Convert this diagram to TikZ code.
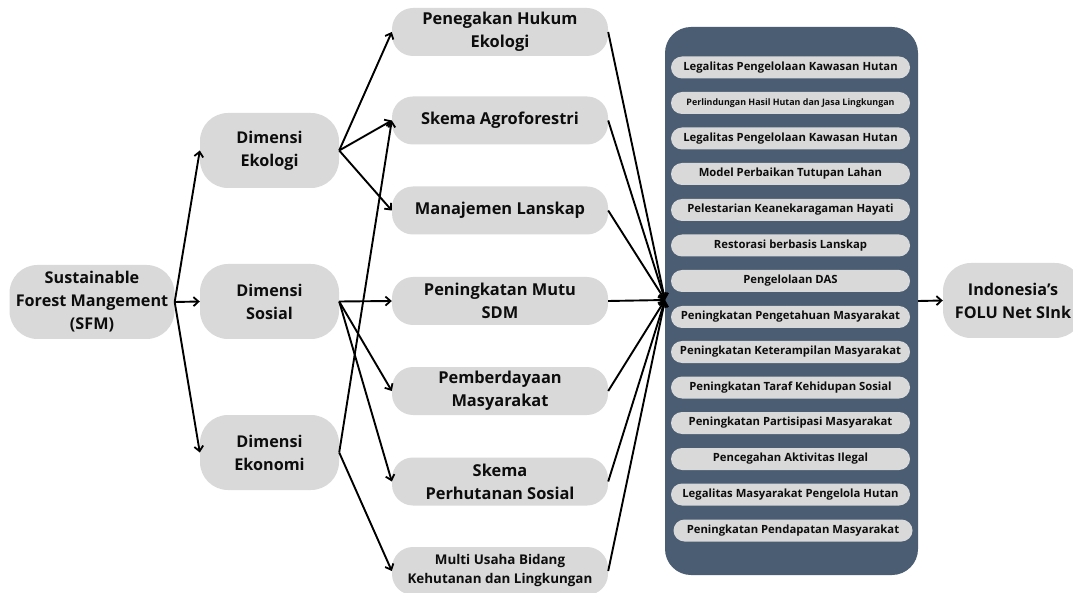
\documentclass[tikz,border=0pt]{standalone}
\usepackage{fontspec}
\setmainfont{Open Sans}
\usetikzlibrary{arrows.meta}
\definecolor{boxgray}{HTML}{D9D9D9}
\definecolor{panelblue}{HTML}{4A5D73}
\definecolor{txt}{HTML}{0D0D0D}
\tikzset{
  bigbox/.style={fill=boxgray, rounded corners=28pt, minimum width=139pt, minimum height=75pt,
    align=center, inner sep=0pt, text=txt, font=\fontsize{16.2}{23}\selectfont\bfseries},
  midbox/.style={fill=boxgray, rounded corners=21pt, minimum width=216pt, minimum height=48pt,
    align=center, inner sep=0pt, text=txt, font=\fontsize{16.4}{23}\selectfont\bfseries},
  pill/.style={fill=boxgray, rounded corners=11pt, minimum width=239pt, minimum height=22pt,
    align=center, inner sep=0pt, text=txt, font=\fontsize{11.3}{12}\selectfont\bfseries},
  arr/.style={-{Straight Barb[length=5pt,width=9pt,line width=1.8pt]}, line width=1.9pt, black},
}
\begin{document}
\begin{tikzpicture}[x=1pt,y=-1pt]
\useasboundingbox (0,0) rectangle (1073,593);
\fill[white] (0,0) rectangle (1073,593);
% left column
\node[bigbox, minimum width=165pt, minimum height=74pt] (sfm) at (92,302) {Sustainable\\Forest Mangement\\(SFM)};
\node[bigbox] (eko) at (269.5,150.5) {Dimensi\\Ekologi};
\node[bigbox] (sos) at (269.5,301.5) {Dimensi\\Sosial};
\node[bigbox] (ekn) at (269.5,452.5) {Dimensi\\Ekonomi};
% middle column
\node[midbox] (m1) at (500,32) {Penegakan Hukum\\Ekologi};
\node[midbox] (m2) at (500,120.5) {Skema Agroforestri};
\node[midbox] (m3) at (500,210.5) {Manajemen Lanskap};
\node[midbox] (m4) at (500,301) {Peningkatan Mutu\\SDM};
\node[midbox] (m5) at (500,391) {Pemberdayaan\\Masyarakat};
\node[midbox] (m6) at (500,481.5) {Skema\\Perhutanan Sosial};
\node[midbox, font=\fontsize{13.4}{19}\selectfont\bfseries] (m7) at (500,571) {Multi Usaha Bidang\\Kehutanan dan Lingkungan};
% panel
\node[fill=panelblue, rounded corners=26pt, minimum width=253pt, minimum height=548pt, inner sep=0pt] (panel) at (791.5,301) {};
\node[pill] (p1) at (790.5,67.5) {Legalitas Pengelolaan Kawasan Hutan};
\node[pill, font=\fontsize{8.9}{10}\selectfont\bfseries] (p2) at (790.5,103) {Perlindungan Hasil Hutan dan Jasa Lingkungan};
\node[pill] (p3) at (790.5,138.5) {Legalitas Pengelolaan Kawasan Hutan};
\node[pill] (p4) at (790.5,174) {Model Perbaikan Tutupan Lahan};
\node[pill] (p5) at (790.5,210) {Pelestarian Keanekaragaman Hayati};
\node[pill] (p6) at (790.5,245.5) {Restorasi berbasis Lanskap};
\node[pill] (p7) at (790.5,281) {Pengelolaan DAS};
\node[pill] (p8) at (790.5,317) {Peningkatan Pengetahuan Masyarakat};
\node[pill] (p9) at (790.5,352) {Peningkatan Keterampilan Masyarakat};
\node[pill] (p10) at (790.5,387.5) {Peningkatan Taraf Kehidupan Sosial};
\node[pill] (p11) at (790.5,423) {Peningkatan Partisipasi Masyarakat};
\node[pill] (p12) at (790.5,459) {Pencegahan Aktivitas Ilegal};
\node[pill] (p13) at (790.5,494.5) {Legalitas Masyarakat Pengelola Hutan};
\node[pill] (p14) at (793,530.5) {Peningkatan Pendapatan Masyarakat};
% right node
\node[bigbox, minimum width=140pt] (folu) at (1013,300.5) {Indonesia’s\\FOLU Net SInk};
\coordinate (hub) at (665,300);
% connectors
\draw[arr] (sfm.east) -- (eko.west);
\draw[arr] (sfm.east) -- (sos.west);
\draw[arr] (sfm.east) -- (ekn.west);
\draw[arr] (eko.east) -- (m1.west);
\draw[arr] (eko.east) -- (m2.west);
\draw[arr] (eko.east) -- (m3.west);
\draw[arr] (ekn.east) -- (m2.west);
\draw[arr] (sos.east) -- (m4.west);
\draw[arr] (sos.east) -- (m5.west);
\draw[arr] (sos.east) -- (m6.west);
\draw[arr] (ekn.east) -- (m7.west);
\foreach \m in {m1,m2,m3,m4,m5,m6,m7} \draw[arr] (\m.east) -- (hub);
\draw[arr] (panel.east) -- (folu.west);
\end{tikzpicture}
\end{document}
